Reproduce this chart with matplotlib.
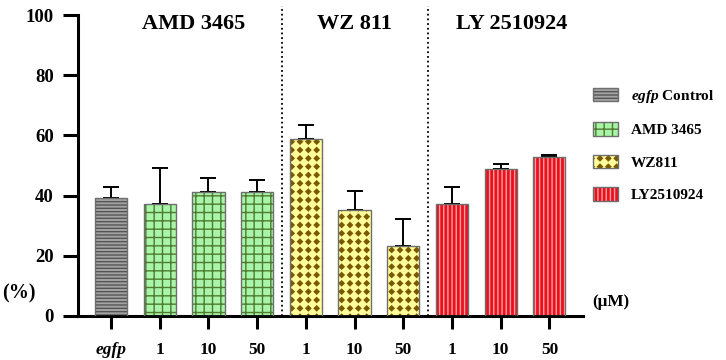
import numpy as np
import matplotlib
matplotlib.use("Agg")
import matplotlib.pyplot as plt
import matplotlib.hatch as mhatch
from matplotlib.path import Path
from matplotlib.patches import Patch

# ---------------- data ----------------
tick_labels = ['egfp', '1', '10', '50', '1', '10', '50', '1', '10', '50']
bar_group = [0, 1, 1, 1, 2, 2, 2, 3, 3, 3]
values = [39.2, 37.2, 41.1, 41.1, 58.7, 35.1, 23.4, 37.1, 48.8, 52.8]
errors = [3.7, 12.0, 4.7, 4.1, 4.9, 6.4, 8.7, 5.7, 1.6, 0.6]
legend_labels = [r'$\mathit{egfp}$ Control', 'AMD 3465', 'WZ811', 'LY2510924']
group_titles = ['AMD 3465', 'WZ 811', 'LY 2510924']
group_title_x = [1.7, 5.0, 8.22]
separators = [3.5, 6.5]

# ---------------- styles ----------------
styles = [
    dict(face='#a3a3a3', hcol='#555555', hatch='-----'),
    dict(face='#a8f4a8', hcol='#4f7a30', hatch='++'),
    dict(face='#ffff9c', hcol='#7a5800', hatch='**'),
    dict(face='#e8121c', hcol='#ff9ea6', hatch='||||'),
]
edge_col = '#6e6e6e'


# custom diamond hatch (replaces the star hatch)
class Diamonds(mhatch.HatchPatternBase):
    size = 0.58

    def __init__(self, hatch, density):
        self.num_rows = int(hatch.count('*') * density)
        self.num_vertices = (self.num_rows + 1) ** 2 * 5 if self.num_rows else 0

    def set_vertices_and_codes(self, vertices, codes):
        n = self.num_rows
        off = 1.0 / n
        h = off * self.size / 2
        shape = np.array([[0, -h], [h, 0], [0, h], [-h, 0], [0, -h]])
        sc = [Path.MOVETO, Path.LINETO, Path.LINETO, Path.LINETO, Path.CLOSEPOLY]
        parts = []
        for r in range(n + 1):
            for c in range(n + 1):
                parts.append(shape + [c * off, r * off])
        vertices[:] = np.concatenate(parts)
        codes[:] = np.tile(sc, (n + 1) ** 2)


try:
    for i, t in enumerate(mhatch._hatch_types):
        if t is mhatch.Stars:
            mhatch._hatch_types[i] = Diamonds
    mhatch.get_path('**', 6)
except Exception:
    styles[2]['hatch'] = '..'

plt.rcParams['font.family'] = ['Liberation Serif', 'DejaVu Serif']
plt.rcParams['font.weight'] = 'bold'
plt.rcParams['mathtext.fontset'] = 'custom'
plt.rcParams['mathtext.it'] = 'Liberation Serif:italic:bold'
plt.rcParams['mathtext.rm'] = 'Liberation Serif:bold'
plt.rcParams['hatch.linewidth'] = 1.0

fig = plt.figure(figsize=(7.26, 3.6), dpi=100)
ax = fig.add_axes([78 / 726, 1 - 316 / 360, (583 - 78) / 726, (316 - 15) / 360])

x = np.arange(len(values))
vals = np.array(values)
errs = np.array(errors)
grp = np.array(bar_group)
width = 0.66

for g, st in enumerate(styles):
    m = grp == g
    ax.bar(x[m], vals[m], width, color=st['face'], edgecolor=st['hcol'],
           hatch=st['hatch'], linewidth=0, zorder=2)
    ax.bar(x[m], vals[m], width, fill=False, edgecolor=edge_col,
           linewidth=1.0, zorder=3)

ax.errorbar(x, vals, yerr=[np.zeros_like(errs), errs], fmt='none',
            ecolor='black', elinewidth=1.4, capsize=5.6, capthick=1.4, zorder=1)

ax.vlines(separators, 0, 103, colors='black', linestyles=(0, (1, 1.6)),
          linewidth=1.3, clip_on=False, zorder=4)

for t, tx in zip(group_titles, group_title_x):
    ax.text(tx, 97, t, ha='center', va='center', fontsize=16, fontweight='bold')

ax.set_xlim(-0.678, 9.69)
ax.set_ylim(0, 100)
ax.set_yticks([0, 20, 40, 60, 80, 100])
ax.set_xticks(x)
ax.set_xticklabels(tick_labels)
ax.get_xticklabels()[0].set_fontstyle('italic')

for s in ['top', 'right']:
    ax.spines[s].set_visible(False)
for s in ['left', 'bottom']:
    ax.spines[s].set_linewidth(2.2)

ax.tick_params(axis='y', length=10.5, width=2.2, pad=7, labelsize=13.5)
ax.tick_params(axis='x', length=9, width=2.2, pad=10, labelsize=12.5)

fig.text(2 / 726, 1 - 293 / 360, '(%)', ha='left', va='center', fontsize=14.5,
         fontweight='bold')
fig.text(592 / 726, 1 - 302 / 360, '(\u03bcM)', ha='left', va='center',
         fontsize=12.3, fontweight='bold')

handles = []
for st in styles:
    h1 = Patch(facecolor=st['face'], edgecolor=st['hcol'], hatch=st['hatch'], linewidth=0)
    h2 = Patch(fill=False, edgecolor=edge_col, linewidth=1.0)
    handles.append((h1, h2))

fig.legend(handles, legend_labels, loc='upper left',
           bbox_to_anchor=(593 / 726, 1 - 88 / 360), frameon=False,
           borderpad=0, borderaxespad=0, handlelength=1.64, handleheight=0.98,
           handletextpad=0.85, labelspacing=1.14,
           prop=dict(family='Liberation Serif', weight='bold', size=11))

fig.savefig('out.png', dpi=100)
